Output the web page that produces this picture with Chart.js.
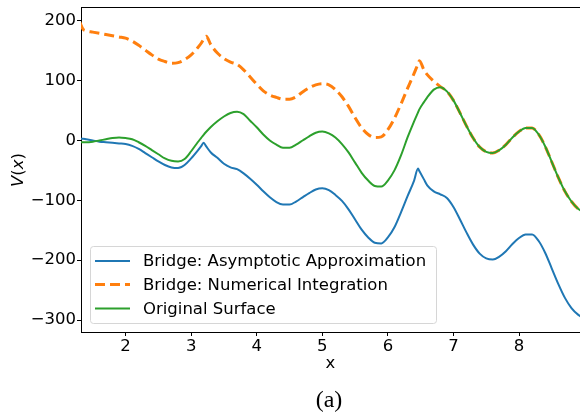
<!DOCTYPE html>
<html>
<head>
<meta charset="utf-8">
<script src="https://cdn.jsdelivr.net/npm/chart.js@4"></script>
<style>
  body { margin: 0; background: #fff; }
  #wrap { width: 580px; height: 414px; }
</style>
</head>
<body>
<div id="wrap"><canvas id="chart" width="580" height="414"></canvas></div>
<script>
// sample positions (x)
const xs = [1.3, 1.35, 1.4, 1.5, 1.6, 1.7, 1.8, 1.9, 2.0, 2.1, 2.2, 2.3, 2.4, 2.5, 2.6, 2.7, 2.8, 2.9,
  3.0, 3.1, 3.15, 3.19, 3.23, 3.3, 3.4, 3.5, 3.6, 3.7, 3.8, 3.9, 4.0, 4.1, 4.2, 4.3, 4.4, 4.5, 4.6,
  4.7, 4.8, 4.9, 5.0, 5.1, 5.2, 5.3, 5.4, 5.5, 5.6, 5.7, 5.8, 5.9, 6.0, 6.1, 6.2, 6.3, 6.4, 6.46,
  6.48, 6.55, 6.6, 6.7, 6.8, 6.9, 7.0, 7.1, 7.2, 7.3, 7.4, 7.5, 7.6, 7.7, 7.8, 7.9, 8.0, 8.1, 8.2,
  8.3, 8.4, 8.5, 8.6, 8.7, 8.8, 8.9, 9.0];

const asymptotic = [3, 3, 2, 0, -2, -3, -4, -5, -6, -9, -14, -21, -28, -35, -41, -45, -46, -41,
  -30, -17, -10, -4, -10, -20, -29, -39, -45, -48, -55, -64, -74, -85, -95, -103, -107, -107, -102,
  -95, -88, -82, -80, -83, -91, -101, -115, -132, -149, -162, -171, -172, -162, -145, -120, -93, -67, -47,
  -51, -65, -75, -85, -90, -96, -111, -132, -154, -174, -189, -197, -199, -194, -185, -173, -163, -157, -157,
  -168, -188, -214, -240, -263, -280, -291, -298];

const numerical = [198, 186, 183, 181, 179, 177, 175, 173, 171, 166, 159, 151, 143, 136, 132, 129, 130, 135,
  143, 155, 162, 169, 174, 160, 146, 137, 131, 127, 118, 106, 94, 83, 76, 72, 69, 69, 73,
  81, 88, 93, 95, 93, 85, 73, 57, 38, 21, 10, 5, 6, 18, 37, 61, 87, 112, 128,
  133, 118, 110, 99, 90, 82, 67, 46, 24, 4, -11, -19, -21, -16, -7, 5, 15, 21, 21,
  10, -10, -36, -62, -85, -102, -114, -120];

const original = [-3, -3, -3, -2, 0, 2, 4, 5, 4, 2, -3, -9, -16, -23, -30, -34, -35, -31,
  -18, -3, 4, 9.5, 14.5, 22.5, 32, 40, 46, 48, 44, 33, 22, 10, 0, -7, -12, -12, -7,
  0, 7, 13, 15, 12, 5, -6, -20, -37, -54, -67, -76, -77, -67, -50, -25, 5, 32, 47,
  52, 64, 72, 85, 89, 82, 67, 46, 24, 4, -11, -19, -21, -16, -7, 5, 15, 21, 21,
  10, -10, -36, -62, -85, -102, -114, -120];

const xTicks = [2, 3, 4, 5, 6, 7, 8];
const yTicks = [-300, -200, -100, 0, 100, 200];
const seriesNames = ["Bridge: Asymptotic Approximation", "Bridge: Numerical Integration", "Original Surface"];

const FONT = "'DejaVu Sans', sans-serif";
const FS = 16.5;

function pts(ys) {
  return xs.map((x, i) => ({ x: x, y: ys[i] }));
}

// legend, spines and labels drawn like the matplotlib figure
const decor = {
  id: "decor",
  afterDatasetsDraw(chart) {
    const ctx = chart.ctx;
    const a = chart.chartArea;
    ctx.save();

    // top spine
    ctx.strokeStyle = "#000";
    ctx.lineWidth = 1;
    ctx.beginPath();
    ctx.moveTo(a.left, a.top + 0.5);
    ctx.lineTo(a.right, a.top + 0.5);
    ctx.stroke();

    // legend box
    const bx = 90.5, by = 246.5, bw = 346, bh = 77, r = 3;
    ctx.beginPath();
    ctx.moveTo(bx + r, by);
    ctx.arcTo(bx + bw, by, bx + bw, by + bh, r);
    ctx.arcTo(bx + bw, by + bh, bx, by + bh, r);
    ctx.arcTo(bx, by + bh, bx, by, r);
    ctx.arcTo(bx, by, bx + bw, by, r);
    ctx.closePath();
    ctx.fillStyle = "rgba(255,255,255,0.8)";
    ctx.fill();
    ctx.strokeStyle = "#d6d6d6";
    ctx.stroke();

    const rows = [261, 284.5, 308.5];
    chart.data.datasets.forEach((ds, i) => {
      ctx.beginPath();
      ctx.strokeStyle = ds.borderColor;
      ctx.lineWidth = ds.borderWidth;
      ctx.setLineDash(ds.borderDash || []);
      ctx.moveTo(95, rows[i]);
      ctx.lineTo(130, rows[i]);
      ctx.stroke();
      ctx.setLineDash([]);
      ctx.fillStyle = "#000";
      ctx.font = FS + "px " + FONT;
      ctx.textBaseline = "middle";
      ctx.textAlign = "left";
      ctx.fillText(ds.label, 143, rows[i] + 1);
    });

    // x label and caption
    ctx.fillStyle = "#000";
    ctx.textAlign = "center";
    ctx.textBaseline = "middle";
    ctx.font = FS + "px " + FONT;
    ctx.fillText("x", (a.left + a.right) / 2, 364);
    ctx.font = "24px 'Liberation Serif', serif";
    ctx.fillText("(a)", 329, 401);

    // y label V(x), math italic
    ctx.translate(19, 170);
    ctx.rotate(-Math.PI / 2);
    const parts = [["V", "italic "], ["(", ""], ["x", "italic "], [")", ""]];
    let total = 0;
    parts.forEach(p => { ctx.font = p[1] + FS + "px " + FONT; total += ctx.measureText(p[0]).width; });
    let cx = -total / 2;
    ctx.textAlign = "left";
    parts.forEach(p => {
      ctx.font = p[1] + FS + "px " + FONT;
      ctx.fillText(p[0], cx, 0);
      cx += ctx.measureText(p[0]).width;
    });
    ctx.restore();
  }
};

new Chart(document.getElementById("chart"), {
  type: "line",
  data: {
    datasets: [
      { label: seriesNames[0], data: pts(asymptotic), borderColor: "#1f77b4", borderWidth: 2, order: 2 },
      { label: seriesNames[1], data: pts(numerical), borderColor: "#ff7f0e", borderWidth: 3, borderDash: [10, 5], order: 1 },
      { label: seriesNames[2], data: pts(original), borderColor: "#2ca02c", borderWidth: 2, order: 0 }
    ]
  },
  options: {
    responsive: false,
    animation: false,
    layout: { padding: { top: 7, right: 0, left: 0, bottom: 0 } },
    elements: { point: { radius: 0 }, line: { cubicInterpolationMode: "monotone", fill: false } },
    plugins: { legend: { display: false }, tooltip: { enabled: false } },
    scales: {
      x: {
        type: "linear",
        min: 1.32,
        max: 8.93,
        afterFit: s => { s.height = 82; s.paddingLeft = 0; s.paddingRight = 0; },
        afterBuildTicks: s => { s.ticks = xTicks.map(v => ({ value: v })); },
        grid: { drawOnChartArea: false, color: "#000", tickLength: 4, tickWidth: 1 },
        border: { color: "#000", width: 1 },
        ticks: { color: "#000", font: { family: FONT, size: FS }, padding: 1, maxRotation: 0 }
      },
      y: {
        min: -320,
        max: 223,
        afterFit: s => { s.width = 81; s.paddingTop = 0; s.paddingBottom = 0; },
        afterBuildTicks: s => { s.ticks = yTicks.map(v => ({ value: v })); },
        grid: { drawOnChartArea: false, color: "#000", tickLength: 4, tickWidth: 1 },
        border: { color: "#000", width: 1 },
        ticks: {
          color: "#000", font: { family: FONT, size: FS }, padding: 1,
          callback: v => (v < 0 ? "\u2212" + Math.abs(v) : String(v))
        }
      }
    }
  },
  plugins: [decor]
});
</script>
</body>
</html>
